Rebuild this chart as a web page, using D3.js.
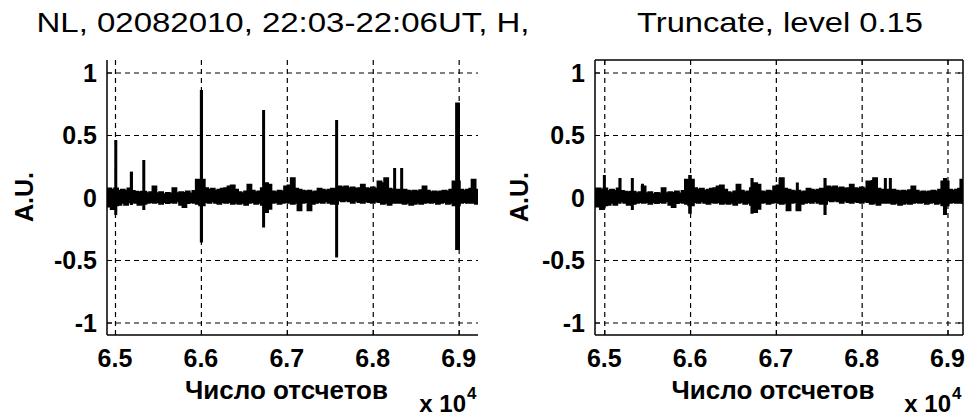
<!DOCTYPE html>
<html><head><meta charset="utf-8">
<script src="https://cdn.jsdelivr.net/npm/d3@7"></script>
<style>body{margin:0;background:#fff}</style>
</head><body>
<svg id="c" width="967" height="416"></svg>
<script>
// ---------- data ----------
const xTicks = [65000, 66000, 67000, 68000, 69000];
const xTickLabels = ["6.5", "6.6", "6.7", "6.8", "6.9"];
const yTicks = [-1, -0.5, 0, 0.5, 1];
const yTickLabels = ["-1", "-0.5", "0", "0.5", "1"];
const titles = ["NL, 02082010,  22:03-22:06UT, H,", "Truncate, level 0.15"];
const xLabel = "Число отсчетов";
const yLabel = "A.U.";
const xMultiplier = ["x 10", "4"];

// background noise envelope: [sample, upper, lower]
const baseNoise = [
 [64890,.07,-.07],[64954,.06,-.09],[64993,.07,-.06],[65032,.05,-.055],[65071,.06,-.04],
 [65110,.05,-.055],[65148,.07,-.035],[65176,.05,-.03],[65226,.045,-.04],[65265,.04,-.055],
 [65304,.045,-.047],[65362,.033,-.04],[65401,.04,-.033],[65440,.087,-.04],[65478,.033,-.033],
 [65517,.04,-.047],[65556,.025,-.033],[65595,.035,-.042],[65633,.03,-.033],[65672,.073,-.04],
 [65711,.033,-.028],[65750,.04,-.055],[65789,.035,-.073],[65827,.047,-.042],[65866,.03,-.033],
 [65905,.05,-.04],[65944,.14,-.047],[65983,.14,-.06],[66041,.073,-.033],[66080,.06,-.04],
 [66119,.068,-.028],[66157,.052,-.04],[66196,.06,-.047],[66235,.068,-.033],[66274,.073,-.04],
 [66313,.087,-.033],[66351,.095,-.047],[66390,.06,-.04],[66429,.04,-.047],[66468,.033,-.04],
 [66507,.047,-.055],[66545,.1,-.04],[66584,.052,-.033],[66623,.04,-.047],[66662,.047,-.04],
 [66701,.073,-.055],[66739,.113,-.113],[66778,.1,-.087],[66817,.047,-.04],[66856,.04,-.033],
 [66895,.052,-.047],[66934,.047,-.04],[66972,.087,-.033],[67011,.095,-.04],[67050,.153,-.047],
 [67089,.068,-.04],[67128,.06,-.1],[67167,.052,-.04],[67205,.047,-.033],[67244,.052,-.1],
 [67283,.04,-.047],[67322,.047,-.04],[67361,.068,-.033],[67400,.06,-.04],[67438,.052,-.028],
 [67477,.06,-.04],[67516,.068,-.047],[67593,.087,-.02],[67632,.079,-.028],[67671,.087,-.02],
 [67710,.073,-.028],[67749,.079,-.04],[67787,.068,-.023],[67826,.073,-.033],[67865,.1,-.04],
 [67904,.073,-.028],[67943,.068,-.033],[67982,.079,-.04],[68020,.068,-.028],[68059,.127,-.033],
 [68098,.113,-.047],[68137,.153,-.04],[68176,.068,-.055],[68215,.06,-.04],[68350,.06,-.047],
 [68389,.052,-.04],[68428,.047,-.055],[68467,.052,-.047],[68506,.047,-.04],[68544,.057,-.047],
 [68583,.087,-.04],[68622,.052,-.033],[68661,.04,-.04],[68700,.047,-.033],[68739,.04,-.047],
 [68777,.047,-.04],[68816,.052,-.033],[68855,.047,-.047],[68894,.06,-.04],[68932,.127,-.06],
 [69010,.06,-.04],[69049,.052,-.033],[69088,.06,-.04],[69127,.068,-.033],[69154,.14,-.04],
 [69193,.06,-.047],[69230,.06,-.047]
];
// impulses in the raw record: [sample, width, upper, lower]
const rawSpikes = [
 [65005,15,.46,-.14],[65191,25,.207,-.06],[65331,15,.30,-.10],[66006,25,.86,-.36],
 [66728,20,.70,-.24],[67578,20,.62,-.48],[68253,20,.236,-.04],[68335,20,.236,-.04],
 [68987,45,.76,-.42]
];
// what is left of them after truncation
const truncSpikes = [
 [64997,15,.18,-.08],[65183,25,.156,-.05],[65323,15,.156,-.10],[65440,12,.11,-.04],
 [65999,30,.18,-.13],[66722,25,.156,-.13],[67048,20,.156,-.05],[67246,15,.12,-.1],
 [67573,25,.156,-.14],[68120,15,.14,-.05],[68272,15,.156,-.04],[68330,15,.156,-.04],
 [68971,35,.156,-.14],[69170,15,.14,-.05]
];

// ---------- layout ----------
const svg = d3.select("#c");
svg.append("rect").attr("width",967).attr("height",416).attr("fill","#fff");

const panels = [
  {x0:107, x1:478, domain:[64907,69225], box:false, spikes:rawSpikes, title:titles[0], tx:283, tw:493, ylab:25},
  {x0:595, x1:963, domain:[64892,69181], box:true, spikes:truncSpikes, title:titles[1], tx:780, tw:286, ylab:520}
];
const yTop = 60, yBot = 335;
const y = d3.scaleLinear().domain([-1.1,1.1]).range([yBot,yTop]);
const font = "'Liberation Sans', Arial, sans-serif";

panels.forEach(p => {
  const x = d3.scaleLinear().domain(p.domain).range([p.x0,p.x1]);
  const g = svg.append("g");
  const clipId = "clip" + p.x0;
  svg.append("clipPath").attr("id",clipId).append("rect")
    .attr("x",p.x0).attr("y",yTop).attr("width",p.x1-p.x0).attr("height",yBot-yTop);

  // grid
  const grid = g.append("g").attr("stroke","#000").attr("stroke-width",1.2).attr("stroke-dasharray","5,4");
  grid.selectAll("line.gx").data(xTicks).join("line")
    .attr("x1",d=>x(d)+0.5).attr("x2",d=>x(d)+0.5).attr("y1",yTop).attr("y2",yBot);
  grid.selectAll("line.gy").data(yTicks).join("line")
    .attr("x1",p.x0).attr("x2",p.x1).attr("y1",d=>y(d)+0.5).attr("y2",d=>y(d)+0.5);

  // signal
  const sig = g.append("g").attr("clip-path",`url(#${clipId})`);
  const area = d3.area().curve(d3.curveStepAfter)
    .x(d=>x(d[0])).y0(d=>y(d[2])).y1(d=>y(d[1]));
  sig.append("path").datum(baseNoise).attr("d",area)
    .attr("fill","#000").attr("stroke","#000").attr("stroke-width",2.5);
  sig.selectAll("rect.sp").data(p.spikes).join("rect")
    .attr("x",d=>x(d[0]-d[1]/2)-0.5)
    .attr("width",d=>Math.max(3, x(d[0]+d[1]/2)-x(d[0]-d[1]/2)+1))
    .attr("y",d=>y(d[2])).attr("height",d=>y(d[3])-y(d[2]))
    .attr("fill","#000");

  // axes
  const ax = g.append("g").attr("stroke","#000").attr("fill","none");
  ax.append("line").attr("x1",p.x0).attr("x2",p.x0).attr("y1",yTop).attr("y2",yBot).attr("stroke-width",1.5);
  ax.append("line").attr("x1",p.x0).attr("x2",p.x1).attr("y1",yBot).attr("y2",yBot).attr("stroke-width",1.5);
  if (p.box) {
    ax.append("line").attr("x1",p.x1).attr("x2",p.x1).attr("y1",yTop).attr("y2",yBot).attr("stroke-width",1.5);
    ax.append("line").attr("x1",p.x0).attr("x2",p.x1).attr("y1",yTop).attr("y2",yTop).attr("stroke-width",1.5);
  }
  ax.selectAll("line.tx").data(xTicks).join("line")
    .attr("x1",d=>x(d)+0.5).attr("x2",d=>x(d)+0.5).attr("y1",yBot).attr("y2",yBot-5);
  ax.selectAll("line.ty").data(yTicks).join("line")
    .attr("x1",p.x0).attr("x2",p.x0+5).attr("y1",d=>y(d)+0.5).attr("y2",d=>y(d)+0.5);
  if (p.box) {
    ax.selectAll("line.tx2").data(xTicks).join("line")
      .attr("x1",d=>x(d)+0.5).attr("x2",d=>x(d)+0.5).attr("y1",yTop).attr("y2",yTop+5);
    ax.selectAll("line.ty2").data(yTicks).join("line")
      .attr("x1",p.x1).attr("x2",p.x1-5).attr("y1",d=>y(d)+0.5).attr("y2",d=>y(d)+0.5);
  }

  // tick labels
  g.selectAll("text.xl").data(xTicks).join("text")
    .attr("x",d=>x(d)).attr("y",367).attr("text-anchor","middle")
    .attr("font-family",font).attr("font-weight","bold").attr("font-size",25)
    .text((d,i)=>xTickLabels[i]);
  g.selectAll("text.yl").data(yTicks).join("text")
    .attr("x",p.x0-10).attr("y",d=>y(d)+9).attr("text-anchor","end")
    .attr("font-family",font).attr("font-weight","bold").attr("font-size",25)
    .text((d,i)=>yTickLabels[i]);

  // labels
  g.append("text").attr("x",(p.x0+p.x1)/2-6).attr("y",399).attr("text-anchor","middle")
    .attr("font-family",font).attr("font-weight","bold").attr("font-size",26).text(xLabel);
  g.append("text").attr("x",p.x1-12).attr("y",412).attr("text-anchor","end")
    .attr("font-family",font).attr("font-weight","bold").attr("font-size",24).text(xMultiplier[0]);
  g.append("text").attr("x",p.x1-11).attr("y",399).attr("text-anchor","start")
    .attr("font-family",font).attr("font-weight","bold").attr("font-size",17).text(xMultiplier[1]);
  g.append("text").attr("transform",`translate(${p.ylab+8},197) rotate(-90)`)
    .attr("text-anchor","middle").attr("font-family",font).attr("font-weight","bold")
    .attr("font-size",25).text(yLabel);

  // title
  g.append("text").attr("x",p.tx).attr("y",32).attr("text-anchor","middle")
    .attr("font-family",font).attr("font-size",28)
    .attr("textLength",p.tw).attr("lengthAdjust","spacingAndGlyphs").text(p.title);
});
</script>
</body></html>
